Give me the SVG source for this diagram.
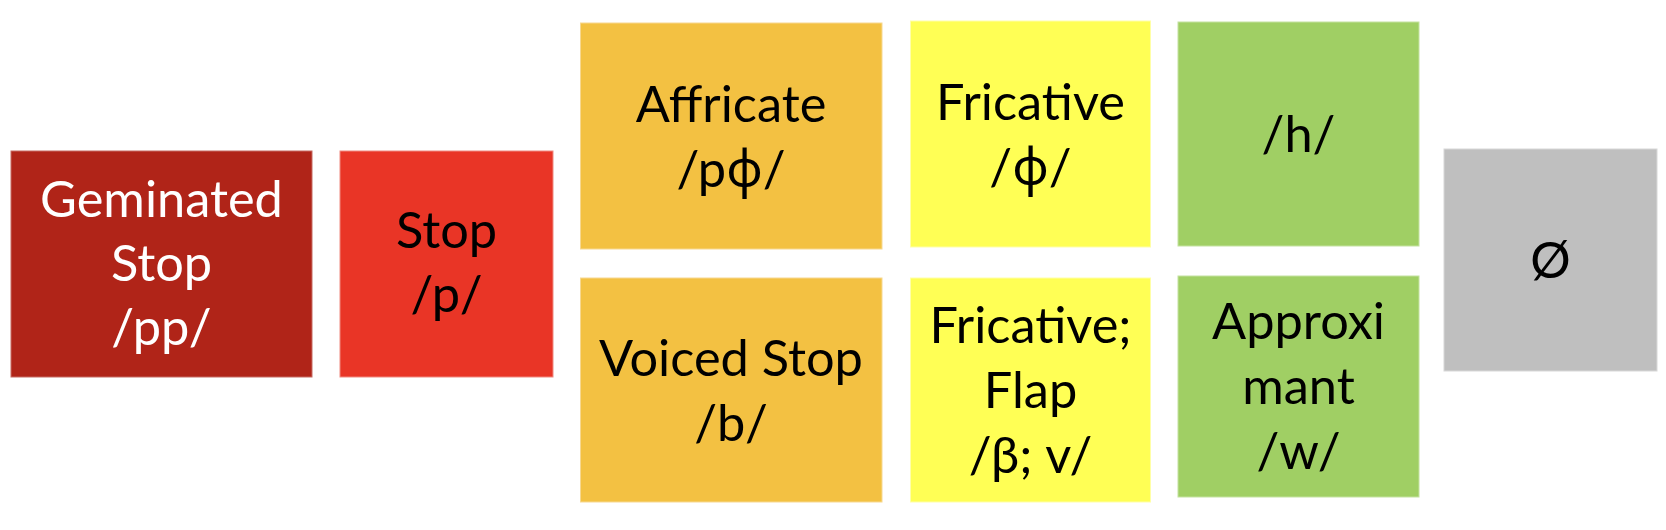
<svg xmlns="http://www.w3.org/2000/svg" width="1666" height="530" viewBox="0 0 1666 530">
<style>
  text { font-family: Lato, "Liberation Sans", sans-serif; font-size: 50.5px; text-anchor: middle; fill: #000; }
  .w { fill: #fff; }
  .phi { font-family: "Noto Sans", "DejaVu Sans", sans-serif; }
  .gem { fill: #B02418; stroke: #C66A62; stroke-width: 1; }
  .stp { fill: #E93526; stroke: #F08A80; stroke-width: 1; }
  .aff { fill: #F3C142; stroke: #F7D890; stroke-width: 1; }
  .fri { fill: #FFFF55; stroke: #FFFFA8; stroke-width: 1; }
  .grn { fill: #A0CF64; stroke: #C4E2A0; stroke-width: 1; }
  .gry { fill: #BFBFBF; stroke: #D8D8D8; stroke-width: 1; }
</style>
<rect width="1666" height="530" fill="#fff"/>
<g id="geminated-stop">
  <rect class="gem" x="11" y="151" width="301" height="226"/>
  <text class="w" x="161.5" y="217">Geminated</text>
  <text class="w" x="161.5" y="281">Stop</text>
  <text class="w" x="161.5" y="345">/pp/</text>
</g>
<g id="stop">
  <rect class="stp" x="340" y="151" width="213" height="226"/>
  <text x="446.5" y="248">Stop</text>
  <text x="446.5" y="312">/p/</text>
</g>
<g id="affricate">
  <rect class="aff" x="580.5" y="23" width="301.5" height="226"/>
  <text x="731" y="122">Affricate</text>
  <text x="731" y="187">/p<tspan class="phi">ɸ</tspan>/</text>
</g>
<g id="voiced-stop">
  <rect class="aff" x="580.5" y="278" width="301.5" height="224"/>
  <text x="731" y="376">Voiced Stop</text>
  <text x="731" y="441">/b/</text>
</g>
<g id="fricative">
  <rect class="fri" x="910.5" y="21" width="240" height="226"/>
  <text x="1030.5" y="120">Fricative</text>
  <text x="1030.5" y="185">/<tspan class="phi">ɸ</tspan>/</text>
</g>
<g id="fricative-flap">
  <rect class="fri" x="910.5" y="278" width="240" height="224"/>
  <text x="1030.5" y="343">Fricative;</text>
  <text x="1030.5" y="408">Flap</text>
  <text x="1030.5" y="473">/β; v/</text>
</g>
<g id="h">
  <rect class="grn" x="1178" y="22" width="241" height="224"/>
  <text x="1298.5" y="152">/h/</text>
</g>
<g id="approximant">
  <rect class="grn" x="1178" y="276" width="241" height="221"/>
  <text x="1298.5" y="339">Approxi</text>
  <text x="1298.5" y="404">mant</text>
  <text x="1298.5" y="469">/w/</text>
</g>
<g id="null">
  <rect class="gry" x="1444" y="149" width="213" height="222"/>
  <text x="1550.5" y="278">Ø</text>
</g>
<g id="connectors"></g>
</svg>
